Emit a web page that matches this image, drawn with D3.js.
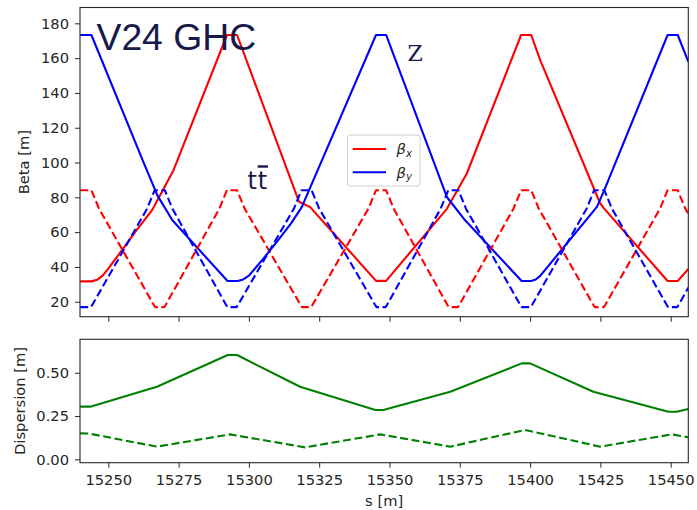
<!DOCTYPE html>
<html>
<head>
<meta charset="utf-8">
<script src="https://cdn.jsdelivr.net/npm/d3@7"></script>
<style>
  html, body { margin: 0; padding: 0; background: #fff; }
  svg { display: block; }
  .axis .tick text { font-family: "DejaVu Sans", sans-serif; font-size: 14.7px; fill: #262626; }
  .axis .tick line { stroke: #262626; stroke-width: 1; }
  .axis .domain { display: none; }
</style>
</head>
<body>
<svg id="chart" width="697" height="510"></svg>
<script>
// Beta functions along the arc, [s in m, beta in m].
// Z optics (solid lines)
const betxZ = [
  [15240.0, 31.7], [15244.0, 31.7], [15246.0, 32.6], [15248.0, 35.0], [15250.0, 39.0],
  [15255.0, 50.0], [15260.0, 61.0], [15265.5, 72.5], [15270.0, 86.0], [15273.2, 95.6],
  [15292.2, 173.3], [15295.8, 173.3], [15317.8, 77.5], [15321.8, 74.4], [15345.2, 32.0],
  [15348.8, 32.0], [15370.4, 73.4], [15377.5, 93.7], [15396.8, 173.3], [15400.4, 173.3],
  [15403.6, 158.9], [15424.9, 76.6], [15426.2, 73.8], [15448.9, 31.9], [15452.5, 31.9],
  [15456.3, 38.9]
];
const betyZ = [
  [15240.0, 173.3], [15244.0, 173.3], [15262.5, 100.2], [15267.5, 81.0], [15272.8, 66.8],
  [15292.4, 31.9], [15296.0, 31.9], [15298.0, 32.8], [15300.0, 35.0], [15305.0, 44.5],
  [15310.0, 54.5], [15315.0, 65.0], [15318.8, 74.4], [15345.2, 173.3], [15348.8, 173.3],
  [15370.4, 80.2], [15376.9, 66.8], [15397.0, 31.9], [15400.4, 31.9], [15402.0, 32.8],
  [15403.6, 34.9], [15423.7, 74.4], [15426.1, 83.0], [15448.9, 173.3], [15452.5, 173.3],
  [15456.3, 157.9]
];
// ttbar optics (dashed lines)
const betxTT = [
  [15240.0, 84.1], [15244.0, 84.1], [15246.7, 73.5],
  [15266.1, 18.4], [15266.7, 16.9], [15269.9, 16.9], [15270.5, 18.4],
  [15289.5, 73.5], [15292.2, 84.1], [15295.8, 84.1], [15298.5, 73.5],
  [15318.3, 18.4], [15318.9, 16.9], [15322.1, 16.9], [15322.7, 18.4],
  [15342.5, 73.5], [15345.2, 84.1], [15348.8, 84.1], [15351.5, 73.5],
  [15370.5, 18.4], [15371.1, 16.9], [15374.3, 16.9], [15374.9, 18.4],
  [15394.1, 73.5], [15396.8, 84.1], [15400.4, 84.1], [15403.1, 73.5],
  [15422.4, 18.4], [15423.0, 16.9], [15426.2, 16.9], [15426.8, 18.4],
  [15446.2, 73.5], [15448.9, 84.1], [15452.5, 84.1], [15455.2, 73.5],
  [15456.3, 70.4]
];
const betyTT = [
  [15240.0, 16.9], [15243.8, 16.9], [15244.4, 18.4],
  [15263.8, 73.5], [15266.5, 84.1], [15270.1, 84.1], [15272.8, 73.5],
  [15291.8, 18.4], [15292.4, 16.9], [15295.6, 16.9], [15296.2, 18.4],
  [15316.0, 73.5], [15318.7, 84.1], [15322.3, 84.1], [15325.0, 73.5],
  [15344.8, 18.4], [15345.4, 16.9], [15348.6, 16.9], [15349.2, 18.4],
  [15368.2, 73.5], [15370.9, 84.1], [15374.5, 84.1], [15377.2, 73.5],
  [15396.4, 18.4], [15397.0, 16.9], [15400.2, 16.9], [15400.8, 18.4],
  [15420.1, 73.5], [15422.8, 84.1], [15426.4, 84.1], [15429.1, 73.5],
  [15448.5, 18.4], [15449.1, 16.9], [15452.3, 16.9], [15452.9, 18.4],
  [15456.3, 28.2]
];
// Horizontal dispersion, [s in m, Dx in m]
const dxZ = [
  [15240.0, 0.304], [15243.6, 0.304], [15267.3, 0.419], [15292.5, 0.602], [15295.8, 0.602],
  [15318.2, 0.419], [15345.0, 0.285], [15347.8, 0.285], [15371.6, 0.390], [15397.0, 0.554],
  [15400.0, 0.554], [15422.5, 0.390], [15449.2, 0.275], [15452.1, 0.275], [15456.3, 0.290]
];
const dxTT = [
  [15240.0, 0.150], [15243.0, 0.149], [15267.3, 0.073], [15293.3, 0.144], [15320.0, 0.069],
  [15346.7, 0.144], [15371.6, 0.073], [15398.2, 0.169], [15424.9, 0.073], [15450.4, 0.144],
  [15456.3, 0.127]
];

const sTicks = [15250, 15275, 15300, 15325, 15350, 15375, 15400, 15425, 15450];
const betaTicks = [20, 40, 60, 80, 100, 120, 140, 160, 180];
const dispTicks = [0, 0.25, 0.5];
const legendLabels = [{sym: "β", sub: "x", color: "#ff0000"}, {sym: "β", sub: "y", color: "#0000ff"}];

// ---- layout ----
const L = 80, R = 688.3;
const top1 = 7.5, bot1 = 316.7;
const top2 = 339.3, bot2 = 462.7;

const svg = d3.select("#chart");
svg.append("rect").attr("width", 697).attr("height", 510).attr("fill", "#fff");

const x = d3.scaleLinear().domain([15239.94, 15456.26]).range([L, R]);
const yB = d3.scaleLinear().domain([11.4, 189.1]).range([bot1, top1]);
const yD = d3.scaleLinear().domain([-0.0196, 0.693]).range([bot2, top2]);

const defs = svg.append("defs");
defs.append("clipPath").attr("id", "clipTop")
  .append("rect").attr("x", L).attr("y", top1).attr("width", R - L).attr("height", bot1 - top1);
defs.append("clipPath").attr("id", "clipBot")
  .append("rect").attr("x", L).attr("y", top2).attr("width", R - L).attr("height", bot2 - top2);

// ---- top panel: beta functions ----
const lineB = d3.line().x(d => x(d[0])).y(d => yB(d[1]));
const gTop = svg.append("g").attr("clip-path", "url(#clipTop)");
const dash = "8,3.6";
[
  {data: betxZ, color: "#ff0000", dash: null},
  {data: betyZ, color: "#0000ff", dash: null},
  {data: betxTT, color: "#ff0000", dash: dash},
  {data: betyTT, color: "#0000ff", dash: dash}
].forEach(s => {
  gTop.append("path").datum(s.data)
    .attr("d", lineB)
    .attr("fill", "none")
    .attr("stroke", s.color)
    .attr("stroke-width", 2.1)
    .attr("stroke-linejoin", "round")
    .attr("stroke-dasharray", s.dash);
});

// ---- bottom panel: dispersion ----
const lineD = d3.line().x(d => x(d[0])).y(d => yD(d[1]));
const gBot = svg.append("g").attr("clip-path", "url(#clipBot)");
[
  {data: dxZ, dash: null},
  {data: dxTT, dash: dash}
].forEach(s => {
  gBot.append("path").datum(s.data)
    .attr("d", lineD)
    .attr("fill", "none")
    .attr("stroke", "#008000")
    .attr("stroke-width", 2.1)
    .attr("stroke-linejoin", "round")
    .attr("stroke-dasharray", s.dash);
});

// ---- axes ----
svg.append("g").attr("class", "axis")
  .attr("transform", `translate(${L},0)`)
  .call(d3.axisLeft(yB).tickValues(betaTicks).tickSize(5).tickPadding(6).tickFormat(d3.format("d")));
svg.append("g").attr("class", "axis")
  .attr("transform", `translate(0,${bot1})`)
  .call(d3.axisBottom(x).tickValues(sTicks).tickSize(5).tickFormat(""));
svg.append("g").attr("class", "axis")
  .attr("transform", `translate(${L},0)`)
  .call(d3.axisLeft(yD).tickValues(dispTicks).tickSize(5).tickPadding(6).tickFormat(d3.format(".2f")));
svg.append("g").attr("class", "axis")
  .attr("transform", `translate(0,${bot2})`)
  .call(d3.axisBottom(x).tickValues(sTicks).tickSize(5).tickPadding(7).tickFormat(d3.format("d")));

// panel frames
[[top1, bot1], [top2, bot2]].forEach(([t, b]) => {
  svg.append("rect").attr("x", L).attr("y", t).attr("width", R - L).attr("height", b - t)
    .attr("fill", "none").attr("stroke", "#262626").attr("stroke-width", 1.1);
});

// axis labels
const lab = { "font-family": "DejaVu Sans, sans-serif", "font-size": "14.7px", fill: "#262626" };
function styleText(sel, st) { Object.entries(st).forEach(([k, v]) => sel.attr(k, v)); return sel; }
styleText(svg.append("text"), lab)
  .attr("transform", `translate(28.7,${(top1 + bot1) / 2}) rotate(-90)`)
  .attr("text-anchor", "middle").text("Beta [m]");
styleText(svg.append("text"), lab)
  .attr("transform", `translate(24.5,${(top2 + bot2) / 2}) rotate(-90)`)
  .attr("text-anchor", "middle").text("Dispersion [m]");
styleText(svg.append("text"), lab)
  .attr("x", (L + R) / 2).attr("y", 506)
  .attr("text-anchor", "middle").text("s [m]");

// ---- legend ----
const lg = svg.append("g");
lg.append("rect").attr("x", 347.5).attr("y", 135).attr("width", 72.5).attr("height", 51)
  .attr("rx", 3).attr("fill", "#fff").attr("fill-opacity", 0.8)
  .attr("stroke", "#d0d0d0").attr("stroke-width", 1);
legendLabels.forEach((d, i) => {
  const yy = 149 + i * 23.3;
  lg.append("line").attr("x1", 352.7).attr("x2", 386).attr("y1", yy).attr("y2", yy)
    .attr("stroke", d.color).attr("stroke-width", 2.1);
  const t = lg.append("text").attr("x", 396.5).attr("y", yy + 5.3)
    .attr("font-family", "DejaVu Sans, sans-serif").attr("font-size", "14.7px")
    .attr("font-style", "italic").attr("fill", "#262626");
  t.append("tspan").text(d.sym);
  t.append("tspan").attr("font-size", "10.3px").attr("dy", 2.5).text(d.sub);
});

// ---- annotations ----
svg.append("text").attr("x", 96.5).attr("y", 50)
  .attr("font-family", "Liberation Sans, Arial, sans-serif").attr("font-size", "37.3px")
  .attr("fill", "#16194a").text("V24 GHC");
svg.append("text").attr("x", 407.5).attr("y", 60.7)
  .attr("font-family", "DejaVu Serif, serif").attr("font-size", "22px")
  .attr("fill", "#16194a").text("Z");
const tt = svg.append("text").attr("x", 247.5).attr("y", 189.3)
  .attr("font-family", "DejaVu Sans, sans-serif").attr("font-size", "24px")
  .attr("letter-spacing", "0.8px")
  .attr("fill", "#16194a");
tt.append("tspan").text("t");
tt.append("tspan").style("text-decoration", "overline").text("t");
</script>
</body>
</html>
